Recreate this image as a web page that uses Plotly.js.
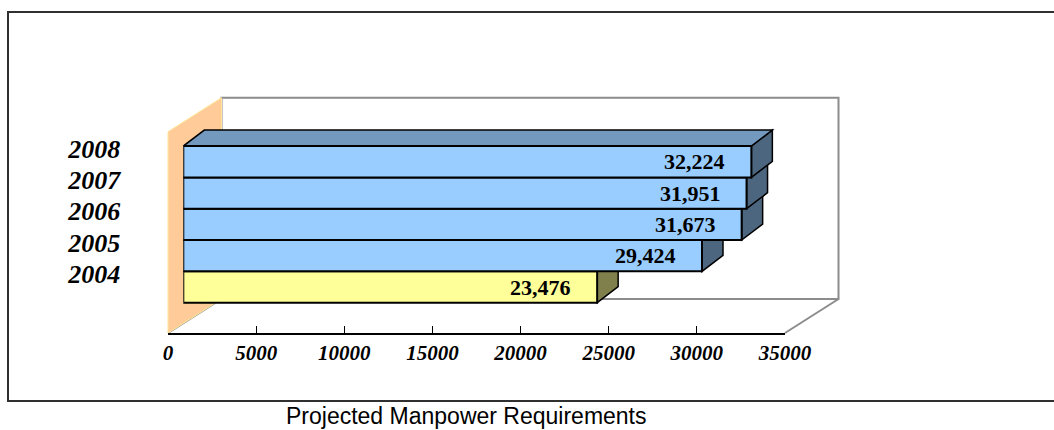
<!DOCTYPE html>
<html>
<head>
<meta charset="utf-8">
<script src="https://cdn.plot.ly/plotly-3.0.1.min.js"></script>
<style>html,body{margin:0;padding:0;background:#fff;}#chart{width:1054px;height:430px;}</style>
</head>
<body>
<div id="chart"></div>
<script>
// ---- data ----
const years = [2004, 2005, 2006, 2007, 2008];
const yearLabels = ['2004', '2005', '2006', '2007', '2008'];
const requirements = [23476, 29424, 31673, 31951, 32224];
const valueLabels = ['23,476', '29,424', '31,673', '31,951', '32,224'];
const xTickValues = [0, 5000, 10000, 15000, 20000, 25000, 30000, 35000];
const xTickLabels = ['0', '5000', '10000', '15000', '20000', '25000', '30000', '35000'];
const chartTitle = 'Projected Manpower Requirements';

// ---- styles ----
const frontColors = ['#FFFF99', '#99CCFF', '#99CCFF', '#99CCFF', '#99CCFF'];
const sideColors  = ['#80804D', '#4D6680', '#4D6680', '#4D6680', '#4D6680'];
const topColors   = ['#BFBF73', '#7399BF', '#7399BF', '#7399BF', '#7399BF'];

// ---- geometry (pixels) ----
const PL = 150, PR = 850, PT = 60, PB = 333;
const PW = PR - PL, PH = PB - PT;
const AX0 = 168, AX1 = 785, XMAX = 35000;     // front floor edge
const BAR0 = 183.3;                           // bars sit part-way back
const WALL_DX = 53.5, WALL_DY = 34;           // wall depth
const BAR_DX = 21, BAR_DY = 16;               // bar depth
const BAR_PITCH = 31.33, BARS_BOTTOM = 302.7;
const HALF = BAR_PITCH / 2;
const s = (AX1 - AX0) / XMAX;                 // px per unit
const px = x => (x - PL) / PW;
const py = y => (PB - y) / PH;

const yLow = years[0] - 0.5 - (PB - BARS_BOTTOM) / BAR_PITCH;
const barsTop = BARS_BOTTOM - years.length * BAR_PITCH;
const yHigh = years[years.length - 1] + 0.5 + (barsTop - PT) / BAR_PITCH;

const shapes = [];
// outer frame
shapes.push({type: 'rect', xref: 'paper', yref: 'paper', layer: 'below',
  x0: px(8), x1: px(1064), y0: py(401), y1: py(12),
  line: {color: '#303030', width: 2}, fillcolor: 'rgba(0,0,0,0)'});
// back wall
shapes.push({type: 'rect', xref: 'paper', yref: 'paper', layer: 'below',
  x0: px(AX0 + WALL_DX), x1: px(AX1 + WALL_DX), y0: py(PB - WALL_DY), y1: py(97.7),
  line: {color: '#8C8C8C', width: 2}, fillcolor: '#FFFFFF'});
// floor diagonals
[AX0, AX1].forEach(x => shapes.push({type: 'line', xref: 'paper', yref: 'paper', layer: 'below',
  x0: px(x), y0: py(PB), x1: px(x + WALL_DX), y1: py(PB - WALL_DY),
  line: {color: '#8C8C8C', width: 2}}));
// side wall
shapes.push({type: 'path', xref: 'paper', yref: 'paper', layer: 'below',
  path: `M${px(AX0)},${py(PB)} L${px(AX0)},${py(97.7 + WALL_DY)} L${px(AX0 + WALL_DX)},${py(97.7)} L${px(AX0 + WALL_DX)},${py(PB - WALL_DY)} Z`,
  fillcolor: '#FFCC99', line: {color: '#FFE79A', width: 1}});
// bar depth faces
const DXdata = BAR_DX / s;
years.forEach((yr, k) => {
  const v = requirements[k];
  shapes.push({type: 'path', layer: 'below', xref: 'x', yref: 'y',
    xsizemode: 'pixel', xanchor: v, ysizemode: 'pixel', yanchor: yr,
    path: `M0,${-HALF} L0,${HALF} L${BAR_DX},${HALF + BAR_DY} L${BAR_DX},${-HALF + BAR_DY} Z`,
    fillcolor: sideColors[k], line: {color: '#000', width: 1.5}});
  shapes.push({type: 'path', layer: 'below', xref: 'x', yref: 'y',
    ysizemode: 'pixel', yanchor: yr,
    path: `M0,${HALF} L${DXdata},${HALF + BAR_DY} L${v + DXdata},${HALF + BAR_DY} L${v},${HALF} Z`,
    fillcolor: topColors[k], line: {color: '#000', width: 1.5}});
});

const annotations = years.map((yr, k) => ({
  x: requirements[k], y: yr, xref: 'x', yref: 'y', xanchor: 'right', yanchor: 'middle',
  xshift: -24, showarrow: false, text: valueLabels[k],
  font: {family: 'Liberation Serif, Times New Roman, serif', size: 22, weight: 'bold', color: '#000'}
}));
annotations.push({x: px(466), y: py(416), xref: 'paper', yref: 'paper', showarrow: false,
  xanchor: 'center', yanchor: 'middle', text: chartTitle,
  font: {family: 'Liberation Sans, Arial, sans-serif', size: 23, color: '#000'}});

const trace = {
  type: 'bar', orientation: 'h', x: requirements, y: years, width: 1,
  marker: {color: frontColors, line: {color: '#000', width: 2}},
  hoverinfo: 'skip', xaxis: 'x', yaxis: 'y'
};

const layout = {
  width: 1054, height: 430, showlegend: false,
  paper_bgcolor: '#fff', plot_bgcolor: 'rgba(0,0,0,0)',
  margin: {l: PL, r: 1054 - PR, t: PT, b: 430 - PB, pad: 0},
  xaxis: {domain: [px(BAR0), px(BAR0 + XMAX * s)], range: [0, XMAX], visible: false, fixedrange: true},
  xaxis2: {domain: [px(AX0), px(AX1)], range: [0, XMAX], anchor: 'y',
    showline: true, linecolor: '#000', linewidth: 1.5, showgrid: false, zeroline: false,
    ticks: 'inside', ticklen: 7, tickcolor: '#000', tickwidth: 1,
    tickvals: xTickValues, ticktext: xTickLabels, ticklabelstandoff: 0,
    tickfont: {family: 'Liberation Serif, Times New Roman, serif', size: 21, weight: 'bold', style: 'italic', color: '#000'}},
  yaxis: {type: 'linear', range: [yLow, yHigh], anchor: 'x', showgrid: false, zeroline: false, showline: false,
    ticks: '', tickvals: years, ticktext: yearLabels, ticklabelstandoff: 62, ticklabelshift: -13,
    tickfont: {family: 'Liberation Serif, Times New Roman, serif', size: 26, weight: 'bold', style: 'italic', color: '#000'}},
  bargap: 0,
  shapes: shapes,
  annotations: annotations
};
// dummy trace so xaxis2 is drawn
const axisTrace = {type: 'scatter', x: [0, XMAX], y: [yLow, yLow], xaxis: 'x2', yaxis: 'y', mode: 'none', hoverinfo: 'skip'};

Plotly.newPlot('chart', [trace, axisTrace], layout, {staticPlot: true, displayModeBar: false});
</script>
</body>
</html>
